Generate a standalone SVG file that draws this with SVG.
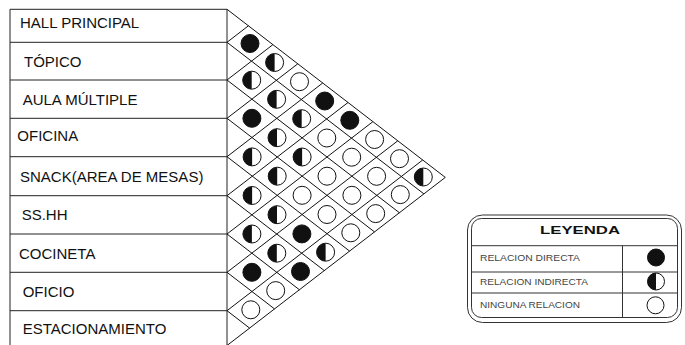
<svg xmlns="http://www.w3.org/2000/svg" xmlns:xlink="http://www.w3.org/1999/xlink" width="685" height="345" viewBox="0 0 685 345">
<style>
.tbl{fill:none;stroke:#222;stroke-width:1}
.grid line{stroke:#111;stroke-width:1}
.lbl{font-family:"Liberation Sans",Arial,sans-serif;font-size:15px;fill:#111}
.lg{fill:none;stroke:#333;stroke-width:1}
.lgt{font-family:"Liberation Sans",Arial,sans-serif;font-size:8.5px;fill:#444}
.lgh{font-family:"Liberation Sans",Arial,sans-serif;font-size:11px;font-weight:bold;fill:#111}
</style>
<defs>
<g id="full"><circle r="9" fill="#111" stroke="#111" stroke-width="1"/></g>
<g id="half"><circle r="9" fill="#fff" stroke="#111" stroke-width="1"/><path d="M0,-9 A9,9 0 0 0 0,9 Z" fill="#111"/></g>
<g id="none"><circle r="9" fill="#fff" stroke="#111" stroke-width="1"/></g>
</defs>
<rect width="685" height="345" fill="#fff"/>

<!-- label table -->
<g id="table" class="tbl">
<line x1="10" y1="9.3" x2="227" y2="9.3"/>
<line x1="10" y1="42.3" x2="227" y2="42.3"/>
<line x1="10" y1="80" x2="227" y2="80"/>
<line x1="10" y1="118.3" x2="227" y2="118.3"/>
<line x1="10" y1="156.7" x2="227" y2="156.7"/>
<line x1="10" y1="195.7" x2="227" y2="195.7"/>
<line x1="10" y1="234" x2="227" y2="234"/>
<line x1="10" y1="272.3" x2="227" y2="272.3"/>
<line x1="10" y1="310.7" x2="227" y2="310.7"/>
<line x1="10" y1="9.3" x2="10" y2="346"/>
<line x1="227" y1="9.3" x2="227" y2="346"/>
</g>

<g id="row-hall-principal"><text class="lbl" x="20" y="27.5">HALL PRINCIPAL</text></g>
<g id="row-topico"><text class="lbl" x="24" y="66.5">TÓPICO</text></g>
<g id="row-aula-multiple"><text class="lbl" x="22.7" y="104.5">AULA MÚLTIPLE</text></g>
<g id="row-oficina"><text class="lbl" x="17.3" y="140.5">OFICINA</text></g>
<g id="row-snack"><text class="lbl" x="20" y="181.5">SNACK(AREA DE MESAS)</text></g>
<g id="row-sshh"><text class="lbl" x="21.7" y="220">SS.HH</text></g>
<g id="row-cocineta"><text class="lbl" x="19" y="258.5">COCINETA</text></g>
<g id="row-oficio"><text class="lbl" x="22.7" y="297">OFICIO</text></g>
<g id="row-estacionamiento"><text class="lbl" x="22.7" y="333.5">ESTACIONAMIENTO</text></g>

<!-- matrix grid lines (connectors) -->
<g id="connectors" class="grid">
<line x1="227" y1="9.3" x2="445.3" y2="177.4"/>
<line x1="227" y1="42.3" x2="423.9" y2="193.9"/>
<line x1="227" y1="80" x2="399.4" y2="212.75"/>
<line x1="227" y1="118.3" x2="374.5" y2="231.9"/>
<line x1="227" y1="156.7" x2="349.6" y2="251.1"/>
<line x1="227" y1="195.7" x2="324.3" y2="270.6"/>
<line x1="227" y1="234" x2="299.4" y2="289.75"/>
<line x1="227" y1="272.3" x2="274.5" y2="308.9"/>
<line x1="227" y1="310.7" x2="249.6" y2="328.1"/>
<line x1="227" y1="42.3" x2="248.4" y2="25.8"/>
<line x1="227" y1="80" x2="272.9" y2="44.65"/>
<line x1="227" y1="118.3" x2="297.8" y2="63.8"/>
<line x1="227" y1="156.7" x2="322.7" y2="83"/>
<line x1="227" y1="195.7" x2="348" y2="102.5"/>
<line x1="227" y1="234" x2="372.9" y2="121.65"/>
<line x1="227" y1="272.3" x2="397.8" y2="140.8"/>
<line x1="227" y1="310.7" x2="422.7" y2="160"/>
<line x1="227" y1="345.5" x2="445.3" y2="177.4"/>
</g>

<!-- relation cells -->
<g id="cells">
<use xlink:href="#full" x="250" y="43.5"/>
<use xlink:href="#half" x="251.7" y="80.2"/>
<use xlink:href="#full" x="251.9" y="118.3"/>
<use xlink:href="#half" x="252.1" y="156.9"/>
<use xlink:href="#half" x="252.1" y="195.5"/>
<use xlink:href="#half" x="251.9" y="234"/>
<use xlink:href="#full" x="251.9" y="272.3"/>
<use xlink:href="#none" x="250.8" y="309.8"/>

<use xlink:href="#half" x="274.6" y="62.5"/>
<use xlink:href="#half" x="276.6" y="99.3"/>
<use xlink:href="#half" x="277" y="137.7"/>
<use xlink:href="#half" x="277.2" y="176.2"/>
<use xlink:href="#half" x="277" y="214.7"/>
<use xlink:href="#half" x="276.8" y="253.2"/>
<use xlink:href="#none" x="275.7" y="290.6"/>

<use xlink:href="#none" x="299.5" y="81.7"/>
<use xlink:href="#half" x="301.7" y="118.7"/>
<use xlink:href="#half" x="302.1" y="157"/>
<use xlink:href="#none" x="302.1" y="195.3"/>
<use xlink:href="#full" x="301.9" y="233.9"/>
<use xlink:href="#full" x="300.5" y="271.5"/>

<use xlink:href="#full" x="324.7" y="101"/>
<use xlink:href="#none" x="326.8" y="138"/>
<use xlink:href="#none" x="327" y="176.2"/>
<use xlink:href="#none" x="327" y="214.5"/>
<use xlink:href="#half" x="325.6" y="252.2"/>

<use xlink:href="#full" x="349.8" y="120.3"/>
<use xlink:href="#none" x="351.7" y="157.2"/>
<use xlink:href="#none" x="351.9" y="195.3"/>
<use xlink:href="#none" x="350.8" y="232.8"/>

<use xlink:href="#none" x="374.6" y="139.5"/>
<use xlink:href="#none" x="376.6" y="176.3"/>
<use xlink:href="#none" x="375.7" y="213.6"/>

<use xlink:href="#none" x="399.5" y="158.7"/>
<use xlink:href="#none" x="400.3" y="194.6"/>

<use xlink:href="#half" x="423.3" y="177"/>
</g>

<!-- legend -->
<g id="legend">
<rect class="lg" x="467.5" y="215" width="214" height="107.5" rx="15"/>
<rect class="lg" x="471.5" y="218.5" width="206" height="99" rx="10"/>
<line class="lg" x1="471.5" y1="245.7" x2="677.5" y2="245.7"/>
<line class="lg" x1="471.5" y1="272" x2="677.5" y2="272"/>
<line class="lg" x1="471.5" y1="293" x2="677.5" y2="293"/>
<line class="lg" x1="622.5" y1="245.7" x2="622.5" y2="317.5"/>
<text class="lgh" x="540" y="234" textLength="80" lengthAdjust="spacingAndGlyphs">LEYENDA</text>
<text class="lgt" x="480" y="260.5" textLength="100" lengthAdjust="spacingAndGlyphs">RELACION DIRECTA</text>
<text class="lgt" x="480" y="284.8" textLength="108" lengthAdjust="spacingAndGlyphs">RELACION INDIRECTA</text>
<text class="lgt" x="480" y="307.5" textLength="100" lengthAdjust="spacingAndGlyphs">NINGUNA RELACION</text>
<circle cx="656" cy="257.5" r="8.5" fill="#111" stroke="#111"/>
<circle cx="656" cy="281.5" r="8.5" fill="#fff" stroke="#111"/>
<path d="M656,273 A8.5,8.5 0 0 0 656,290 Z" fill="#111"/>
<circle cx="655.5" cy="305.3" r="8.5" fill="#fff" stroke="#111"/>
</g>
</svg>
